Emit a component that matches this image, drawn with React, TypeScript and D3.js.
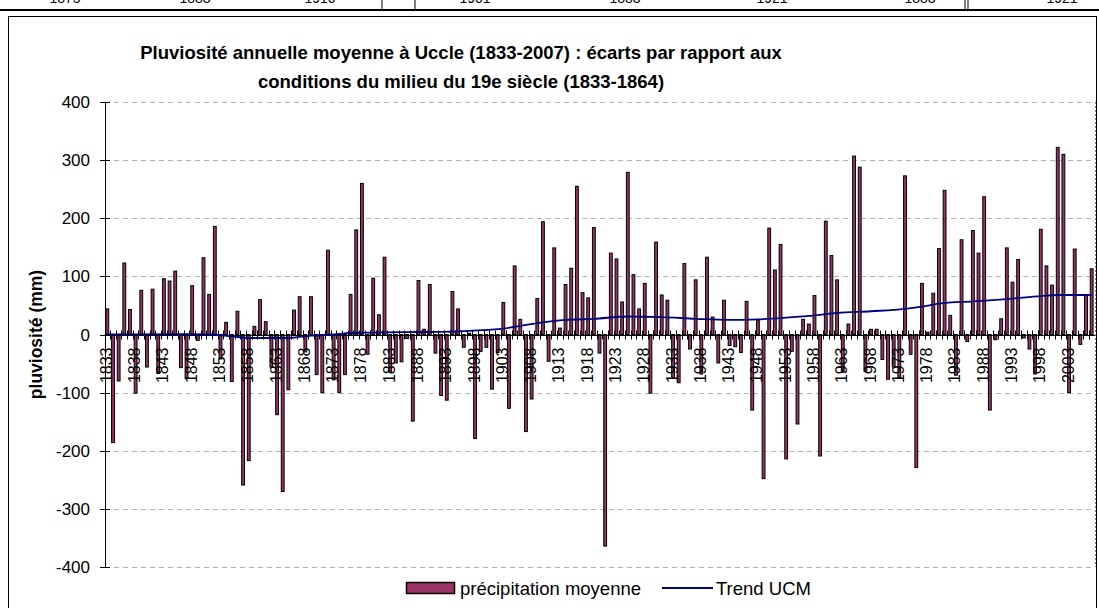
import React from "react";
import * as d3 from "d3";

const startYear = 1833;
const precipitation: number[] = [
  44, -186, -80, 123, 43, -101, 76, -56, 78, -67,
  96, 92, 109, -57, -75, 84, -10, 132, 69, 186,
  -42, 21, -81, 40, -259, -217, 14, 60, 22, -56,
  -138, -270, -95, 42, 65, -30, 65, -69, -100, 145,
  -78, -100, -69, 69, 180, 260, -34, 97, 34, 133,
  -65, -49, -47, -7, -149, 93, 9, 86, -32, -105,
  -113, 74, 44, -22, 2, -179, -29, -22, -94, -31,
  55, -127, 118, 26, -167, -111, 62, 194, -46, 149,
  11, 86, 114, 255, 72, 63, 184, -32, -364, 140,
  130, 56, 279, 103, 44, 88, -101, 159, 68, 59,
  -75, -83, 122, -25, 94, -68, 133, 30, -49, 59,
  -19, -21, -31, 57, -130, 24, -248, 183, 111, 155,
  -214, -29, -154, 26, 18, 67, -209, 195, 136, 94,
  -65, 18, 307, 288, -63, 9, 9, -43, -77, -56,
  -75, 273, -34, -229, 88, 4, 71, 148, 248, 33,
  -70, 163, -12, 179, 140, 237, -130, -9, 27, 149,
  90, 129, -6, -25, -68, 181, 118, 85, 322, 310,
  -100, 147, -17, 67, 113,
];
const years: number[] = precipitation.map((_, i) => startYear + i);

const trendYears: number[] = [1833, 1845, 1851, 1855, 1858, 1862, 1865, 1869, 1873, 1877, 1885, 1894, 1900, 1903, 1906, 1910, 1914, 1919, 1925, 1931, 1937, 1943, 1948, 1953, 1957, 1962, 1968, 1974, 1977, 1980, 1986, 1992, 1998, 2001, 2007];
const trendValues: number[] = [0, 0.5, 0, -3, -6, -6, -6, -2, 0, 3, 4, 5, 8, 10, 15, 21, 25, 27, 31, 30, 27, 25, 26, 29, 32, 37, 40, 44, 48, 53, 57, 61, 66, 68, 68];

const yTicks: number[] = [-400, -300, -200, -100, 0, 100, 200, 300, 400];
const labelYears: number[] = years.filter((y) => (y - startYear) % 5 === 0);

const titleLines: string[] = [
  "Pluviosité annuelle moyenne à Uccle (1833-2007) : écarts par rapport aux",
  "conditions du milieu du 19e siècle (1833-1864)",
];
const topTableTexts: string[] = ["1875", "1883", "1910", "1901", "1883", "1921", "1883", "1921"];
const topTableX: number[] = [65, 195, 320, 475, 625, 772, 920, 1062];

const FONT = "'Liberation Sans', Arial, sans-serif";
const BAR = "#993366";
const TREND = "#000080";

export default function App() {
  const W = 1099, H = 608;
  const plotL = 105, plotR = 1095, plotT = 102, plotB = 567;
  const x = d3.scaleBand<number>().domain(years).range([plotL - 0.5, plotR - 0.5]).paddingInner(0.5).paddingOuter(0.25);
  const y = d3.scaleLinear().domain([-400, 400]).range([plotB, plotT]);
  const cx = (yr: number) => (x(yr) as number) + x.bandwidth() / 2;
  const y0 = y(0);

  const trendLine = d3
    .line<number>()
    .x((_, i) => cx(trendYears[i]))
    .y((d) => y(d))
    .curve(d3.curveMonotoneX);

  const step = x.step();

  return (
    <svg width={W} height={H} style={{ position: "absolute", left: 0, top: 0, background: "#fff" }} fontFamily={FONT}>
      <rect x={0} y={0} width={W} height={H} fill="#fff" />
      {/* fragment of table above */}
      {topTableTexts.map((t, i) => (
        <text key={"tt" + i} x={topTableX[i]} y={3} fontSize={14} textAnchor="middle" fill="#000">{t}</text>
      ))}
      <line x1={0} x2={W} y1={10} y2={10} stroke="#000" strokeWidth={2} />
      <line x1={382} x2={382} y1={0} y2={10} stroke="#000" strokeWidth={1} />
      <line x1={415} x2={415} y1={0} y2={10} stroke="#000" strokeWidth={1} />
      <line x1={965} x2={965} y1={0} y2={10} stroke="#000" strokeWidth={1} />
      <line x1={968} x2={968} y1={0} y2={10} stroke="#000" strokeWidth={1} />

      {/* chart frame */}
      <rect x={8.5} y={16.5} width={1088} height={640} fill="#fff" stroke="#000" strokeWidth={1} />

      {/* title */}
      {titleLines.map((t, i) => (
        <text key={"ti" + i} x={461} y={59 + i * 29} fontSize={18.5} fontWeight="bold" textAnchor="middle" fill="#000">{t}</text>
      ))}

      {/* gridlines */}
      {yTicks.filter((t) => t !== 0).map((t) => (
        <line key={"g" + t} x1={plotL} x2={plotR} y1={Math.round(y(t)) + 0.5} y2={Math.round(y(t)) + 0.5} stroke="#b4b4b4" strokeWidth={1} strokeDasharray="5,4" />
      ))}
      {/* plot area right border */}
      <line x1={plotR + 0.5} x2={plotR + 0.5} y1={plotT} y2={plotB} stroke="#808080" strokeWidth={1} strokeDasharray="2,2" />

      {/* bars */}
      {precipitation.map((v, i) => {
        const yr = years[i];
        const top = Math.min(y(v), y0);
        const h = Math.abs(y(v) - y0);
        return <rect key={"b" + yr} x={x(yr)} y={top} width={x.bandwidth()} height={h} fill={BAR} stroke="#000" strokeWidth={1} />;
      })}

      {/* x axis */}
      <line x1={plotL} x2={plotR} y1={Math.round(y0) + 0.5} y2={Math.round(y0) + 0.5} stroke="#000" strokeWidth={1} />
      {years.map((yr) => {
        const bx = Math.round((x(yr) as number) - (step - x.bandwidth()) / 2) + 0.5;
        return <line key={"xt" + yr} x1={bx} x2={bx} y1={y0 - 4} y2={y0 + 5} stroke="#000" strokeWidth={1} />;
      })}
      {labelYears.map((yr) => (
        <text key={"xl" + yr} transform={`translate(${cx(yr) + 4.5},${y0 + 13}) rotate(-90)`} fontSize={16} textAnchor="end" fill="#000">{yr}</text>
      ))}

      {/* trend */}
      <path d={trendLine(trendValues) || ""} fill="none" stroke={TREND} strokeWidth={1.8} />

      {/* y axis */}
      <line x1={plotL + 0.5} x2={plotL + 0.5} y1={plotT} y2={plotB} stroke="#000" strokeWidth={1} />
      {yTicks.map((t) => (
        <g key={"yt" + t}>
          <line x1={plotL - 5} x2={plotL + 5} y1={Math.round(y(t)) + 0.5} y2={Math.round(y(t)) + 0.5} stroke="#000" strokeWidth={1} />
          <text x={90} y={y(t) + 6} fontSize={17} textAnchor="end" fill="#000">{t}</text>
        </g>
      ))}
      <text transform={`translate(42,${y0}) rotate(-90)`} fontSize={17.5} fontWeight="bold" textAnchor="middle" fill="#000">pluviosité (mm)</text>

      {/* legend */}
      <rect x={406.5} y={582.5} width={48} height={11} fill={BAR} stroke="#000" strokeWidth={1.5} />
      <text x={460} y={595} fontSize={18.5} fill="#000">précipitation moyenne</text>
      <line x1={662} x2={713} y1={588} y2={588} stroke={TREND} strokeWidth={1.8} />
      <text x={716} y={595} fontSize={18.5} fill="#000">Trend UCM</text>
    </svg>
  );
}
